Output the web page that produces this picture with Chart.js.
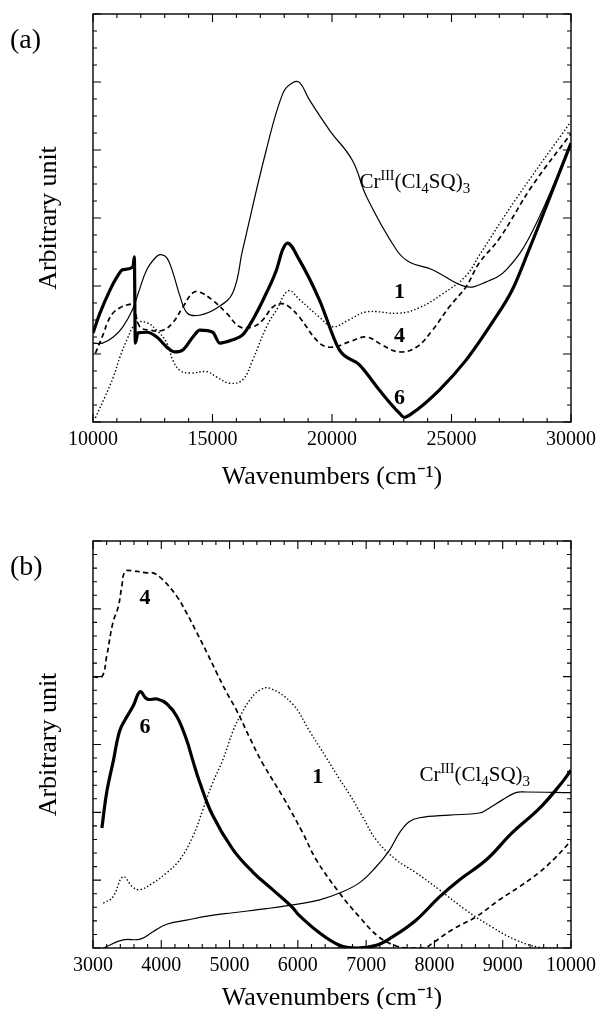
<!DOCTYPE html>
<html>
<head>
<meta charset="utf-8">
<script src="https://cdn.jsdelivr.net/npm/chart.js@4/dist/chart.umd.min.js"></script>
<style>
  html, body { margin: 0; padding: 0; background: #fff; overflow: hidden; }
  #wrap { position: relative; width: 602px; height: 1009px; }
  canvas { position: absolute; left: 0; }
  #chart-a { top: 0; }
  #chart-b { top: 505px; }
</style>
</head>
<body>
<div id="wrap">
  <canvas id="chart-a" width="602" height="505"></canvas>
  <canvas id="chart-b" width="602" height="530"></canvas>
</div>
<script>
// ---- panel (a): 10000 - 30000 cm-1 ----
const a_xTicks = [10000, 15000, 20000, 25000, 30000];

const a_cr_wn = [10000, 10400, 10850, 11250, 11650, 11900, 12250, 12650, 12850, 13100, 13350, 13650, 13950, 14450, 15200, 15850, 16260, 17250, 17950, 18350, 18650, 19050, 19900, 20850, 21450, 22700, 23250, 24200, 25600, 26450, 27300, 28350, 30000];
const a_cr_val = [1.16, 1.16, 1.25, 1.40, 1.65, 1.90, 2.24, 2.43, 2.46, 2.41, 2.19, 1.84, 1.60, 1.57, 1.68, 1.90, 2.53, 4.00, 4.84, 4.99, 4.99, 4.74, 4.29, 3.85, 3.31, 2.53, 2.35, 2.24, 1.99, 2.06, 2.24, 2.78, 4.10];

const a_6_wn = [10000, 10290, 10710, 11000, 11250, 11670, 11730, 11770, 11880, 12250, 12670, 13090, 13420, 13760, 14180, 14470, 15010, 15300, 15850, 16260, 16680, 17260, 17680, 17930, 18140, 18640, 19480, 20310, 21150, 21980, 22820, 23030, 23360, 24490, 25610, 26700, 27540, 28240, 30000];
const a_6_val = [1.31, 1.60, 1.94, 2.13, 2.24, 2.28, 2.43, 1.16, 1.31, 1.32, 1.25, 1.10, 1.03, 1.06, 1.25, 1.35, 1.32, 1.16, 1.21, 1.28, 1.50, 1.90, 2.24, 2.53, 2.63, 2.38, 1.79, 1.06, 0.84, 0.47, 0.13, 0.07, 0.13, 0.47, 0.91, 1.46, 1.94, 2.53, 4.10];

const a_1_wn = [10100, 10500, 10850, 11130, 11420, 11670, 11880, 12250, 12670, 13090, 13340, 13630, 14050, 14760, 15180, 15720, 16260, 16680, 17260, 17680, 18180, 18640, 19480, 20020, 20700, 21440, 22820, 23650, 24610, 25610, 26160, 27700, 30000];
const a_1_val = [0.06, 0.37, 0.66, 0.96, 1.21, 1.40, 1.47, 1.46, 1.35, 1.16, 0.91, 0.76, 0.72, 0.74, 0.66, 0.57, 0.62, 0.91, 1.40, 1.65, 1.93, 1.80, 1.54, 1.40, 1.50, 1.62, 1.60, 1.68, 1.88, 2.15, 2.45, 3.28, 4.42];

const a_4_wn = [10100, 10450, 10600, 10830, 11130, 11420, 11670, 11960, 12380, 12920, 13340, 13760, 14180, 14470, 15010, 15590, 16140, 16680, 17100, 17520, 17900, 18220, 18640, 19480, 20020, 20730, 21440, 22110, 22820, 23530, 24200, 24900, 25610, 26160, 26990, 28370, 30000];
const a_4_val = [1.01, 1.31, 1.46, 1.60, 1.68, 1.72, 1.72, 1.40, 1.35, 1.35, 1.46, 1.69, 1.90, 1.91, 1.79, 1.60, 1.40, 1.40, 1.50, 1.69, 1.74, 1.69, 1.54, 1.16, 1.10, 1.18, 1.25, 1.13, 1.03, 1.10, 1.35, 1.69, 1.99, 2.34, 2.69, 3.47, 4.24];

// ---- panel (b): 3000 - 10000 cm-1 ----
const b_xTicks = [3000, 4000, 5000, 6000, 7000, 8000, 9000, 10000];

const b_cr_wn = [3150, 3440, 3690, 3880, 4080, 4370, 4670, 5050, 5540, 6020, 6320, 6610, 6900, 7140, 7340, 7490, 7630, 7780, 8220, 8660, 8800, 8990, 9190, 9340, 10000];
const b_cr_val = [0, 0.12, 0.13, 0.24, 0.35, 0.41, 0.47, 0.52, 0.58, 0.65, 0.71, 0.81, 0.96, 1.19, 1.44, 1.70, 1.86, 1.92, 1.96, 1.99, 2.06, 2.18, 2.29, 2.30, 2.29];

const b_6_wn = [3130, 3200, 3300, 3390, 3490, 3590, 3690, 3790, 3940, 4080, 4230, 4370, 4460, 4560, 4750, 5050, 5340, 5630, 5920, 6020, 6320, 6610, 6860, 7150, 7380, 7730, 8070, 8360, 8760, 9140, 9530, 9820, 10000];
const b_6_val = [1.77, 2.29, 2.77, 3.20, 3.40, 3.57, 3.78, 3.67, 3.67, 3.60, 3.41, 3.07, 2.77, 2.45, 1.96, 1.45, 1.12, 0.86, 0.60, 0.48, 0.22, 0.04, 0, 0.04, 0.16, 0.41, 0.75, 1.0, 1.30, 1.70, 2.05, 2.38, 2.62];

const b_1_wn = [3150, 3290, 3440, 3580, 3690, 3880, 4080, 4270, 4460, 4610, 4750, 4900, 5050, 5150, 5300, 5440, 5590, 5920, 6170, 6420, 6610, 6760, 6940, 7150, 7440, 7730, 8070, 8460, 8840, 9190, 9530, 9800];
const b_1_val = [0.66, 0.75, 1.05, 0.90, 0.86, 0.96, 1.11, 1.30, 1.64, 2.04, 2.43, 2.77, 3.20, 3.41, 3.66, 3.80, 3.83, 3.60, 3.20, 2.80, 2.49, 2.26, 1.95, 1.59, 1.30, 1.11, 0.86, 0.56, 0.31, 0.12, 0.01, 0];

const b_4_wn = [3000, 3130, 3200, 3290, 3370, 3420, 3470, 3580, 3790, 3880, 4020, 4230, 4370, 4520, 4670, 4810, 4960, 5100, 5290, 5480, 5780, 6070, 6270, 6610, 6900, 7190, 7440, 7600, 7850, 7970, 8260, 8610, 8950, 9240, 9530, 9780, 10000];
const b_4_val = [4.0, 4.0, 4.30, 4.79, 5.03, 5.32, 5.55, 5.56, 5.53, 5.53, 5.43, 5.18, 4.94, 4.65, 4.35, 4.06, 3.76, 3.51, 3.11, 2.73, 2.23, 1.70, 1.30, 0.81, 0.46, 0.16, 0.03, 0, 0, 0.07, 0.27, 0.46, 0.71, 0.90, 1.11, 1.34, 1.58];

const FONT = '"Liberation Serif", "Times New Roman", serif';

const STYLE = {
  thin:   { borderWidth: 1.2, borderDash: [] },
  thick:  { borderWidth: 3.2, borderDash: [] },
  dotted: { borderWidth: 1.4, borderDash: [1.4, 2.2] },
  dashed: { borderWidth: 1.7, borderDash: [5, 3.5] }
};

function pts(xs, ys) {
  return xs.map((x, i) => ({ x: x, y: ys[i] }));
}

// smooth curves; 'monotone' only where a curve has a step (no overshoot)
function series(xs, ys, kind, mode) {
  return Object.assign({
    data: pts(xs, ys),
    borderColor: '#000',
    pointRadius: 0,
    fill: false,
    tension: 0.4,
    cubicInterpolationMode: mode || 'default',
    borderCapStyle: 'butt',
    borderJoinStyle: 'round'
  }, STYLE[kind]);
}

// box with inward ticks on all four sides
const frame = {
  id: 'frame',
  afterDatasetsDraw(chart, args, opts) {
    const { ctx, chartArea: { left, right, top, bottom }, scales: { x, y } } = chart;
    ctx.save();
    ctx.strokeStyle = '#000';
    ctx.lineWidth = 1.4;
    ctx.strokeRect(left, top, right - left, bottom - top);
    ctx.lineWidth = 1.1;
    ctx.beginPath();
    const isMajor = (v, step) => Math.abs(v / step - Math.round(v / step)) < 1e-6;
    const nx = Math.round((x.max - x.min) / opts.xMinor);
    for (let i = 0; i <= nx; i++) {
      const v = x.min + i * opts.xMinor;
      const len = isMajor(v, opts.xMajor) ? 8 : 4;
      const px = x.getPixelForValue(v);
      ctx.moveTo(px, bottom); ctx.lineTo(px, bottom - len);
      ctx.moveTo(px, top); ctx.lineTo(px, top + len);
    }
    const ny = Math.round((y.max - y.min) / opts.yMinor);
    for (let i = 0; i <= ny; i++) {
      const v = y.min + i * opts.yMinor;
      const len = isMajor(v, opts.yMajor) ? 8 : 4;
      const py = y.getPixelForValue(v);
      ctx.moveTo(left, py); ctx.lineTo(left + len, py);
      ctx.moveTo(right, py); ctx.lineTo(right - len, py);
    }
    ctx.stroke();
    ctx.restore();
  }
};

// curve labels, compound name and panel tag
const notes = {
  id: 'notes',
  afterDatasetsDraw(chart, args, opts) {
    const { ctx, chartArea, scales: { x, y } } = chart;
    ctx.save();
    ctx.fillStyle = '#000';
    ctx.textBaseline = 'middle';
    ctx.textAlign = 'left';
    ctx.font = '28px ' + FONT;
    ctx.fillText(opts.tag, 10, chartArea.top + 26.5);

    ctx.textAlign = 'center';
    ctx.font = 'bold 22px ' + FONT;
    opts.marks.forEach(m => {
      ctx.fillText(m.text, x.getPixelForValue(m.wn), y.getPixelForValue(m.val));
    });

    // Cr^III(Cl_4SQ)_3
    ctx.textAlign = 'left';
    ctx.textBaseline = 'alphabetic';
    let px = x.getPixelForValue(opts.chem.wn);
    const base = y.getPixelForValue(opts.chem.val);
    const parts = [['Cr', 0, 21], ['III', -8, 14], ['(Cl', 0, 21], ['4', 5, 15], ['SQ)', 0, 21], ['3', 5, 15]];
    parts.forEach(p => {
      ctx.font = p[2] + 'px ' + FONT;
      ctx.fillText(p[0], px, base + p[1]);
      px += ctx.measureText(p[0]).width;
    });
    ctx.restore();
  }
};

function makeChart(id, cfg) {
  return new Chart(document.getElementById(id), {
    type: 'line',
    data: { datasets: cfg.datasets },
    options: {
      responsive: false,
      animation: false,
      events: [],
      layout: { padding: { left: 0, right: 30, top: cfg.top, bottom: 0 } },
      plugins: {
        legend: { display: false },
        tooltip: { enabled: false },
        frame: cfg.frame,
        notes: cfg.notes
      },
      scales: {
        x: {
          type: 'linear',
          min: cfg.xMin,
          max: cfg.xMax,
          grid: { display: false, drawTicks: false },
          border: { display: false },
          afterBuildTicks: s => { s.ticks = cfg.xTicks.map(v => ({ value: v })); },
          afterFit: s => { s.height = cfg.xHeight; },
          ticks: {
            autoSkip: false,
            maxRotation: 0,
            padding: 6,
            color: '#000',
            font: { family: FONT, size: 20 },
            callback: v => String(v)
          },
          title: {
            display: true,
            text: 'Wavenumbers (cm\u207B\u00B9)',
            color: '#000',
            font: { family: FONT, size: 26, lineHeight: 1.2 },
            padding: { top: 0, bottom: cfg.titlePad }
          }
        },
        y: {
          type: 'linear',
          min: 0,
          max: 6,
          grid: { display: false, drawTicks: false },
          border: { display: false },
          ticks: { display: false },
          afterFit: s => { s.width = 93; },
          title: {
            display: true,
            text: 'Arbitrary unit',
            color: '#000',
            font: { family: FONT, size: 26, lineHeight: 1.2 },
            padding: { top: 34, bottom: 0 }
          }
        }
      }
    },
    plugins: [frame, notes]
  });
}

makeChart('chart-a', {
  top: 14,
  xMin: 10000, xMax: 30000,
  xTicks: a_xTicks,
  xHeight: 83,
  titlePad: 12,
  datasets: [
    series(a_6_wn, a_6_val, 'thick', 'monotone'),
    series(a_cr_wn, a_cr_val, 'thin'),
    series(a_1_wn, a_1_val, 'dotted'),
    series(a_4_wn, a_4_val, 'dashed')
  ],
  frame: { xMinor: 1000, xMajor: 5000, yMinor: 0.25, yMajor: 1 },
  notes: {
    tag: '(a)',
    marks: [
      { text: '1', wn: 22820, val: 1.90 },
      { text: '4', wn: 22820, val: 1.26 },
      { text: '6', wn: 22820, val: 0.35 }
    ],
    chem: { wn: 21150, val: 3.44 }
  }
});

makeChart('chart-b', {
  top: 36,
  xMin: 3000, xMax: 10000,
  xTicks: b_xTicks,
  xHeight: 87,
  titlePad: 21,
  datasets: [
    series(b_6_wn, b_6_val, 'thick'),
    series(b_cr_wn, b_cr_val, 'thin'),
    series(b_1_wn, b_1_val, 'dotted'),
    series(b_4_wn, b_4_val, 'dashed')
  ],
  frame: { xMinor: 200, xMajor: 1000, yMinor: 0.2, yMajor: 1 },
  notes: {
    tag: '(b)',
    marks: [
      { text: '4', wn: 3760, val: 5.16 },
      { text: '6', wn: 3760, val: 3.26 },
      { text: '1', wn: 6290, val: 2.52 }
    ],
    chem: { wn: 7780, val: 2.46 }
  }
});
</script>
</body>
</html>
